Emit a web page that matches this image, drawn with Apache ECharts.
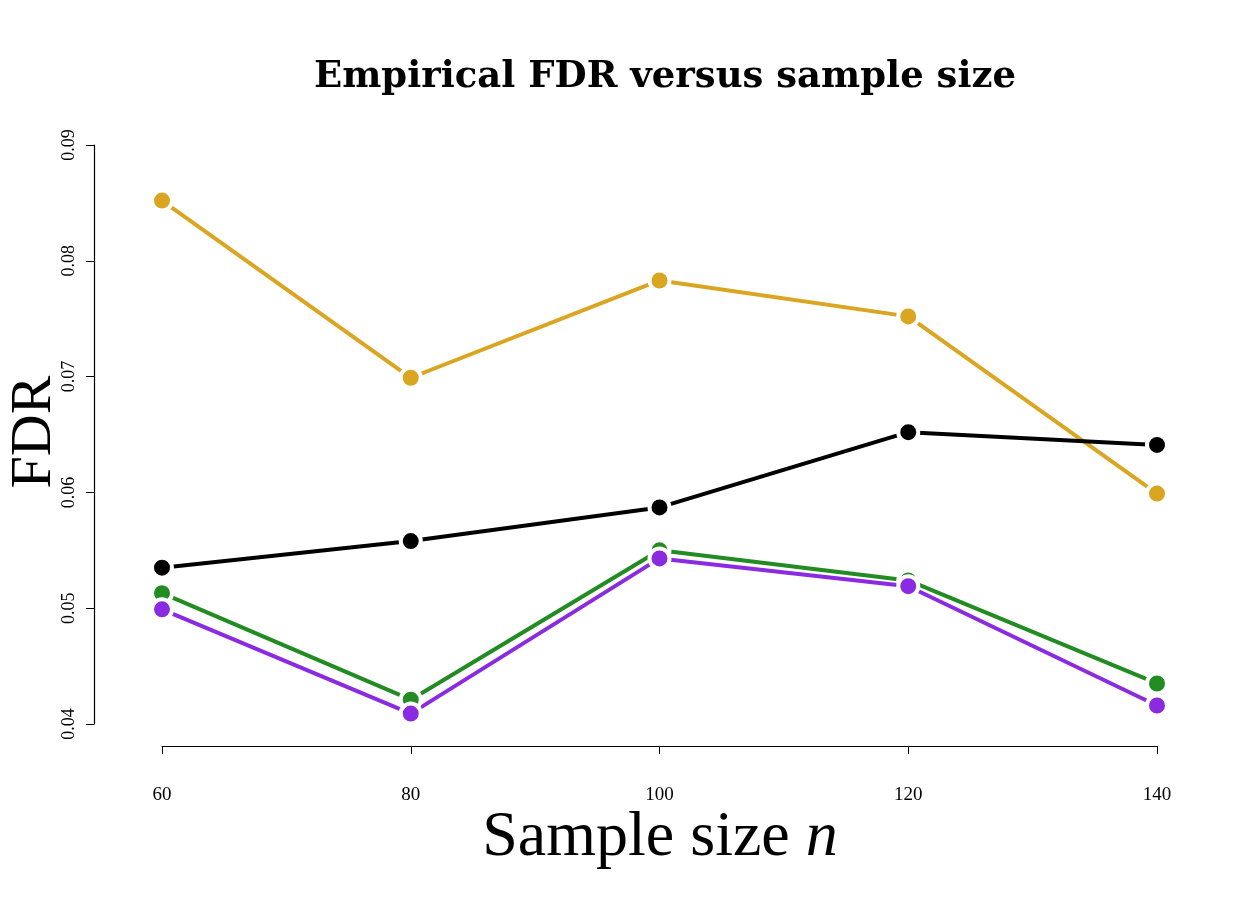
<!DOCTYPE html>
<html><head><meta charset="utf-8">
<script src="https://cdn.jsdelivr.net/npm/echarts@6/dist/echarts.min.js"></script>
<style>html,body{margin:0;background:#fff}#c{width:1260px;height:900px}</style>
</head><body><div id="c"></div>
<script>
const sampleSizes = [60, 80, 100, 120, 140];
const goldSeries = [0.0852, 0.0699, 0.0783, 0.0752, 0.0599];
const blackSeries = [0.0535, 0.0558, 0.0587, 0.0652, 0.0641];
const greenSeries = [0.0513, 0.0421, 0.0550, 0.0524, 0.0435];
const purpleSeries = [0.0499, 0.0409, 0.0543, 0.0519, 0.0416];
const yTicks = [0.04, 0.05, 0.06, 0.07, 0.08, 0.09];

const font = 'Liberation Serif, DejaVu Serif, serif';
function mk(name, vals, color) {
  return {
    name, type: 'line', data: sampleSizes.map((x, i) => [x, vals[i]]),
    lineStyle: { color, width: 4 }, itemStyle: { color, borderColor: '#fff', borderWidth: 4 },
    symbol: 'circle', symbolSize: 20, showSymbol: true, animation: false
  };
}
const chart = echarts.init(document.getElementById('c'));
chart.setOption({
  backgroundColor: '#fff',
  title: { text: 'Empirical FDR versus sample size', left: 660, top: 54, textAlign: 'center',
    textStyle: { fontFamily: 'DejaVu Serif', fontWeight: 'bold', fontSize: 37, color: '#000' } },
  grid: { left: 162, right: 103, top: 145, bottom: 176 },
  xAxis: { type: 'value', min: 60, max: 140, interval: 20, offset: 22,
    axisLine: { show: true, lineStyle: { color: '#000', width: 1.2 } },
    axisTick: { show: true, length: 8, lineStyle: { color: '#000' } },
    axisLabel: { fontFamily: font, fontSize: 19, color: '#000', margin: 40 },
    splitLine: { show: false } },
  yAxis: { type: 'value', min: 0.04, max: 0.09, interval: 0.01, offset: 68,
    axisLine: { show: true, lineStyle: { color: '#000', width: 1.2 } },
    axisTick: { show: true, length: 8, lineStyle: { color: '#000' } },
    axisLabel: { fontFamily: font, fontSize: 18, color: '#000', rotate: 90, margin: 16,
      formatter: v => v.toFixed(2), customValues: yTicks },
    splitLine: { show: false } },
  graphic: [
    { type: 'text', x: 660, y: 806, style: {
      align: 'center',
      text: '{a|Sample size }{b|n}', rich: {
        a: { fontFamily: font, fontSize: 64, fill: '#000' },
        b: { fontFamily: font, fontSize: 64, fontStyle: 'italic', fill: '#000' } } } },
    { type: 'text', x: 6, y: 432, rotation: Math.PI / 2, style: {
      text: 'FDR', font: '58px ' + font, fill: '#000', align: 'center', verticalAlign: 'top' } }
  ],
  series: [
    mk('gold', goldSeries, '#DAA520'),
    mk('black', blackSeries, '#000000'),
    mk('green', greenSeries, '#228B22'),
    mk('purple', purpleSeries, '#8A2BE2')
  ]
});
</script></body></html>
